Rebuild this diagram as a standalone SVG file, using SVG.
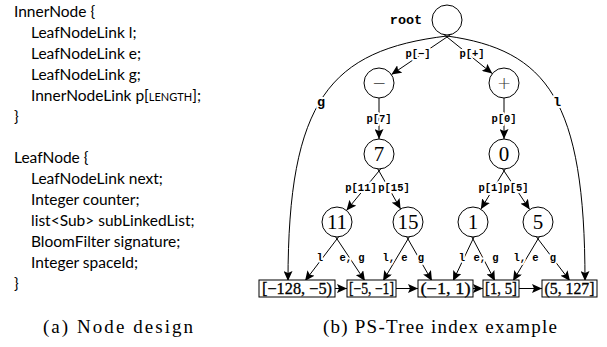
<svg xmlns="http://www.w3.org/2000/svg" width="607" height="347" viewBox="0 0 607 347">
<style>
.code{font-family:Lato,"Liberation Sans",sans-serif;font-size:15.5px;fill:#000}
.sc{font-size:11px}
.cap{font-family:"Liberation Serif",serif;font-size:19px;fill:#000}
.lbl{font-family:"Liberation Mono",monospace;font-weight:bold;font-size:10.5px;fill:#000;text-anchor:middle;stroke:#fff;stroke-width:4;paint-order:stroke;stroke-linejoin:round}
.big{font-size:13.5px}
.num{font-family:"Liberation Serif",serif;font-size:21px;fill:#000;text-anchor:middle}
.sym{font-family:"DejaVu Sans",sans-serif;font-size:17px;font-weight:200;fill:#333;text-anchor:middle}
.box{font-family:"Liberation Serif",serif;font-size:16px;fill:#000;text-anchor:middle;stroke:#000;stroke-width:0.3}
circle{fill:#fff;stroke:#000;stroke-width:1}
rect{fill:#fff;stroke:#000;stroke-width:1}
.e{stroke:#000;stroke-width:1;fill:none;marker-end:url(#ah)}
</style>
<defs>
<marker id="ah" markerUnits="userSpaceOnUse" markerWidth="10" markerHeight="9" viewBox="0 0 10 9" refX="10" refY="4.5" orient="auto"><path d="M0,0 L10,4.5 L0,9 L2,4.5 z" fill="#000"/></marker>
</defs>

<g id="code-a">
<text class="code" x="14" y="17">InnerNode {</text>
<text class="code" x="31" y="38">LeafNodeLink l;</text>
<text class="code" x="31" y="59">LeafNodeLink e;</text>
<text class="code" x="31" y="80">LeafNodeLink g;</text>
<text class="code" x="31" y="101">InnerNodeLink p[<tspan class="sc">LENGTH</tspan>];</text>
<text class="code" x="14" y="122">}</text>
<text class="code" x="14" y="163">LeafNode {</text>
<text class="code" x="31" y="184">LeafNodeLink next;</text>
<text class="code" x="31" y="205">Integer counter;</text>
<text class="code" x="31" y="226">list&lt;Sub&gt; subLinkedList;</text>
<text class="code" x="31" y="247">BloomFilter signature;</text>
<text class="code" x="31" y="268">Integer spaceId;</text>
<text class="code" x="14" y="289">}</text>
<text class="cap" x="43" y="333" textLength="150" lengthAdjust="spacing">(a) Node design</text>
</g>

<g id="connectors">
<path class="e" d="M447,36 C330,50 288,100 288,281"/>
<path class="e" d="M447,36 C547,50 585,100 585,281"/>
<line class="e" x1="452" y1="33.6" x2="391.4" y2="74.6"/>
<line class="e" x1="442.3" y1="33.2" x2="492.3" y2="73.6"/>
<line class="e" x1="379" y1="98" x2="379" y2="139"/>
<line class="e" x1="504" y1="98" x2="504" y2="139"/>
<line class="e" x1="382.8" y1="166.4" x2="346.5" y2="210.4"/>
<line class="e" x1="376" y1="165.8" x2="400.6" y2="209"/>
<line class="e" x1="507.1" y1="165.9" x2="480.8" y2="209.2"/>
<line class="e" x1="500.7" y1="166" x2="529.7" y2="209.5"/>
<line class="e" x1="340.6" y1="234.2" x2="305" y2="281"/>
<line class="e" x1="333.7" y1="234" x2="365" y2="281"/>
<line class="e" x1="411.1" y1="233.8" x2="383" y2="281"/>
<line class="e" x1="405" y1="233.8" x2="432" y2="281"/>
<line class="e" x1="475.6" y1="233.6" x2="453" y2="281"/>
<line class="e" x1="470.2" y1="233.7" x2="495" y2="281"/>
<line class="e" x1="541.1" y1="233.8" x2="513" y2="281"/>
<line class="e" x1="534.4" y1="234.2" x2="570" y2="281"/>
<line class="e" x1="335" y1="288.5" x2="347" y2="288.5"/>
<line class="e" x1="396" y1="288.5" x2="418" y2="288.5"/>
<line class="e" x1="473" y1="288.5" x2="483" y2="288.5"/>
<line class="e" x1="519" y1="288.5" x2="542" y2="288.5"/>
<text class="lbl big" x="321" y="106">g</text>
<text class="lbl big" x="557" y="106">l</text>
<text class="lbl" x="418" y="57">p[−]</text>
<text class="lbl" x="472" y="57">p[+]</text>
<text class="lbl" x="379" y="122">p[7]</text>
<text class="lbl" x="504" y="122">p[0]</text>
<text class="lbl" x="361" y="191">p[11]</text>
<text class="lbl" x="394" y="191">p[15]</text>
<text class="lbl" x="491" y="191">p[1]</text>
<text class="lbl" x="516" y="191">p[5]</text>
<text class="lbl" x="320" y="261">l</text>
<text class="lbl" x="352" y="261">e, g</text>
<text class="lbl" x="395" y="261">l, e</text>
<text class="lbl" x="421" y="261">g</text>
<text class="lbl" x="462" y="261">l</text>
<text class="lbl" x="486" y="261">e, g</text>
<text class="lbl" x="526" y="261">l, e</text>
<text class="lbl" x="553" y="261">g</text>
</g>

<g id="root">
<circle cx="447" cy="20" r="15"/>
<text class="lbl big" x="406" y="24" style="stroke:none">root</text>
</g>
<g id="n-minus"><circle cx="379" cy="83" r="15"/><text class="sym" x="379" y="89">−</text></g>
<g id="n-plus"><circle cx="504" cy="83" r="15"/><text class="sym" x="504" y="89">+</text></g>
<g id="n7"><circle cx="379" cy="154" r="15"/><text class="num" x="379" y="161">7</text></g>
<g id="n0"><circle cx="504" cy="154" r="15"/><text class="num" x="504" y="161">0</text></g>
<g id="n11"><circle cx="337" cy="222" r="15"/><text class="num" x="337" y="229">11</text></g>
<g id="n15"><circle cx="408" cy="222" r="15"/><text class="num" x="408" y="229">15</text></g>
<g id="n1"><circle cx="473" cy="222" r="15"/><text class="num" x="473" y="229">1</text></g>
<g id="n5"><circle cx="538" cy="222" r="15"/><text class="num" x="538" y="229">5</text></g>

<g id="leaf1"><rect x="259" y="280" width="76" height="17"/><text class="box" x="297" y="294" textLength="70" lengthAdjust="spacingAndGlyphs">[−128, −5)</text></g>
<g id="leaf2"><rect x="347" y="280" width="49" height="17"/><text class="box" x="371.5" y="294" textLength="45" lengthAdjust="spacingAndGlyphs">[−5, −1]</text></g>
<g id="leaf3"><rect x="418" y="280" width="55" height="17"/><text class="box" x="445.5" y="294" textLength="50" lengthAdjust="spacingAndGlyphs">(−1, 1)</text></g>
<g id="leaf4"><rect x="483" y="280" width="36" height="17"/><text class="box" x="501" y="294" textLength="32" lengthAdjust="spacingAndGlyphs">[1, 5]</text></g>
<g id="leaf5"><rect x="542" y="280" width="55" height="17"/><text class="box" x="569.5" y="294" textLength="50" lengthAdjust="spacingAndGlyphs">(5, 127]</text></g>

<text class="cap" x="323" y="333" textLength="234" lengthAdjust="spacing">(b) PS-Tree index example</text>
</svg>
